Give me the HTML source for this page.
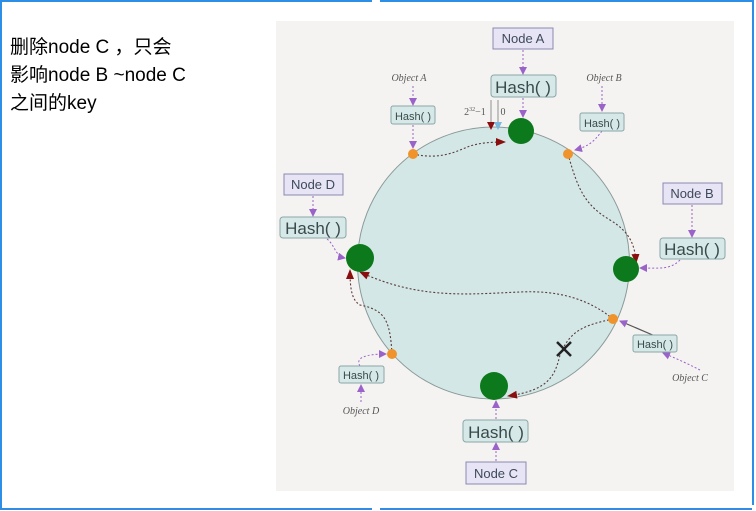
<!DOCTYPE html>
<html><head><meta charset="utf-8"><style>
html,body{margin:0;padding:0;background:#fff;width:756px;height:511px;overflow:hidden}
.t{position:absolute;left:10px;font-family:"Liberation Sans","Noto Sans CJK SC",sans-serif;font-size:19px;color:#000;line-height:28px}
</style></head><body>
<div class="t" style="top:34px">删除node C ，只会<br>影响node B ~node C<br>之间的key</div>
<svg width="756" height="511" style="position:absolute;left:0;top:0" xmlns="http://www.w3.org/2000/svg">
<defs>
<marker id="p" markerWidth="8" markerHeight="8" refX="7" refY="4" orient="auto" markerUnits="userSpaceOnUse"><path d="M0,0 L8,4 L0,8z" fill="#9a63c9"/></marker>
<marker id="r" markerWidth="10" markerHeight="8" refX="9" refY="4" orient="auto" markerUnits="userSpaceOnUse"><path d="M0,0 L10,4 L0,8z" fill="#8b0e0e"/></marker>
</defs>
<g stroke="#2d8ee6" stroke-width="2" fill="none">
<line x1="0" y1="1" x2="372" y2="1"/><line x1="380" y1="1" x2="752" y2="1"/>
<line x1="0" y1="509" x2="372" y2="509"/><line x1="380" y1="509" x2="752" y2="509"/>
<line x1="1" y1="0" x2="1" y2="509"/><line x1="753" y1="0" x2="753" y2="505"/>
</g>
<rect x="276" y="21" width="458" height="470" fill="#f5f3f1"/>
<circle cx="493.5" cy="263" r="136" fill="#d3e8e6" stroke="#8a9a98" stroke-width="1"/>
<g fill="none" stroke="#5a3a3a" stroke-width="1.1" stroke-dasharray="2,2">
<path d="M413,154 C440,160 455,152 470,146 C480,143 490,142 505,142" marker-end="url(#r)"/>
<path d="M568,154 C578,190 585,205 610,220 C630,232 635,245 636,263" marker-end="url(#r)"/>
<path d="M613,319 C590,300 560,290 520,292 C470,294 420,300 360,272" marker-end="url(#r)"/>
<path d="M392,354 C390,320 385,310 360,305 C352,300 350,290 350,270" marker-end="url(#r)"/>
<path d="M613,319 C585,325 570,330 560,355 C555,375 550,390 508,396" marker-end="url(#r)"/>
</g>
<g stroke="#777" stroke-width="0.8"><line x1="491" y1="100" x2="491" y2="124"/><line x1="498" y1="100" x2="498" y2="124"/></g>
<path d="M487,122 L495,122 L491,130z" fill="#8b0e0e"/>
<path d="M494,122 L502,122 L498,130z" fill="#7ab8dd"/>
<g fill="none" stroke="#9a63c9" stroke-width="1" stroke-dasharray="2,2">
<line x1="523" y1="50" x2="523" y2="74" marker-end="url(#p)"/>
<line x1="523" y1="98" x2="523" y2="117" marker-end="url(#p)"/>
<line x1="413" y1="86" x2="413" y2="105" marker-end="url(#p)"/>
<line x1="413" y1="125" x2="413" y2="148" marker-end="url(#p)"/>
<line x1="602" y1="86" x2="602" y2="111" marker-end="url(#p)"/>
<path d="M602,131 C595,140 590,146 575,150" marker-end="url(#p)"/>
<line x1="692" y1="205" x2="692" y2="237" marker-end="url(#p)"/>
<path d="M680,260 C670,270 660,268 640,268" marker-end="url(#p)"/>
<line x1="313" y1="196" x2="313" y2="216" marker-end="url(#p)"/>
<path d="M327,239 C335,245 335,256 345,258" marker-end="url(#p)"/>
<path d="M700,370 C690,365 680,360 663,353" marker-end="url(#p)"/>
<line x1="361" y1="402" x2="361" y2="385" marker-end="url(#p)"/>
<path d="M360,366 C355,358 365,354 386,354" marker-end="url(#p)"/>
<line x1="496" y1="461" x2="496" y2="443" marker-end="url(#p)"/>
<line x1="496" y1="419" x2="496" y2="401" marker-end="url(#p)"/>
</g>
<path d="M655,336 L620,321" stroke="#555" stroke-width="1.2" marker-end="url(#p)"/>
<g fill="#0c7a1c">
<circle cx="521" cy="131" r="13"/><circle cx="626" cy="269" r="13"/>
<circle cx="360" cy="258" r="14"/><circle cx="494" cy="386" r="14"/>
</g>
<g fill="#f0932b">
<circle cx="413" cy="154" r="5"/><circle cx="568" cy="154" r="5"/>
<circle cx="613" cy="319" r="5"/><circle cx="392" cy="354" r="5"/>
</g>
<g stroke="#222" stroke-width="2.5"><line x1="557" y1="342" x2="571" y2="356"/><line x1="571" y1="342" x2="557" y2="356"/></g>
<g font-family="Liberation Sans,sans-serif" fill="#3a4a4c" text-anchor="middle">
<g stroke="#8a8ab0" stroke-width="1" fill="#e6e4f5">
<rect x="493" y="28" width="60" height="21"/><rect x="663" y="183" width="59" height="21"/>
<rect x="284" y="174" width="59" height="21"/><rect x="466" y="462" width="60" height="22"/>
</g>
<g stroke="#8aa6a6" stroke-width="1" fill="#d6e9e8">
<rect x="491" y="75" width="65" height="22" rx="3"/><rect x="660" y="238" width="65" height="21" rx="3"/>
<rect x="280" y="217" width="66" height="21" rx="3"/><rect x="463" y="420" width="65" height="22" rx="3"/>
<rect x="391" y="106" width="44" height="18" rx="2"/><rect x="580" y="113" width="44" height="18" rx="2"/>
<rect x="633" y="335" width="44" height="17" rx="2"/><rect x="339" y="366" width="45" height="17" rx="2"/>
</g>
<g font-size="13" fill="#3e4a5a">
<text x="523" y="43">Node A</text><text x="692" y="198">Node B</text>
<text x="313" y="189">Node D</text><text x="496" y="478">Node C</text>
</g>
<g font-size="17">
<text x="523" y="93">Hash( )</text><text x="692" y="255">Hash( )</text>
<text x="313" y="234">Hash( )</text><text x="496" y="438">Hash( )</text>
</g>
<g font-size="11">
<text x="413" y="120">Hash( )</text><text x="602" y="127">Hash( )</text>
<text x="655" y="348">Hash( )</text><text x="361" y="379">Hash( )</text>
</g>
<g font-family="Liberation Serif,serif" font-style="italic" font-size="10" fill="#555">
<text x="409" y="81">Object A</text><text x="604" y="81">Object B</text>
<text x="690" y="381">Object C</text><text x="361" y="414">Object D</text>
</g>
<text x="475" y="115" font-family="Liberation Serif,serif" font-size="10" fill="#555">2<tspan font-size="6" dy="-4">32</tspan><tspan dy="4">−1</tspan></text>
<text x="503" y="115" font-family="Liberation Serif,serif" font-size="10" fill="#555">0</text>
</g>
</svg>
</body></html>
